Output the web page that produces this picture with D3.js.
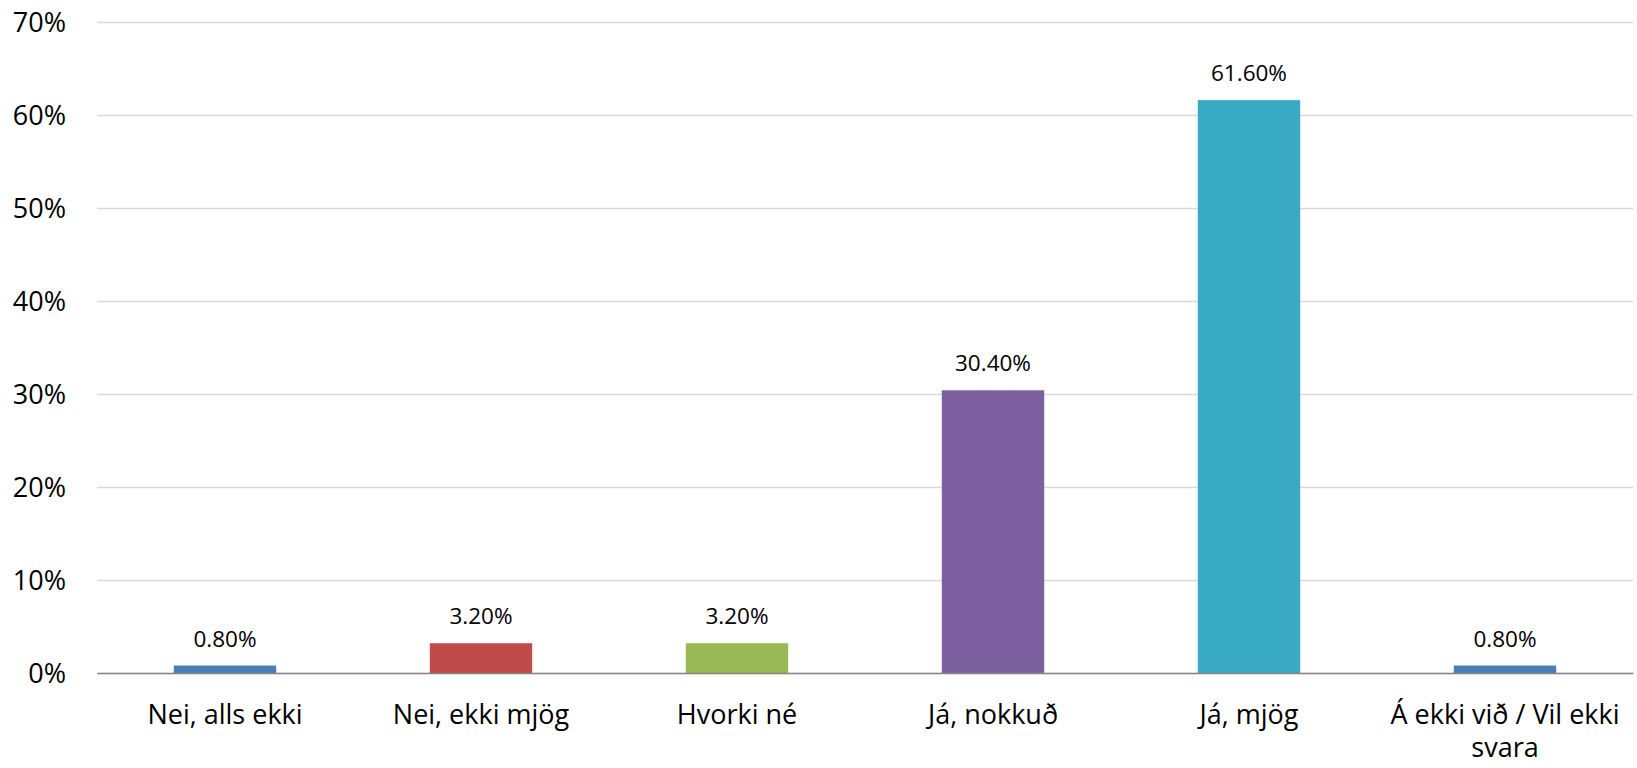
<!DOCTYPE html>
<html><head><meta charset="utf-8">
<script src="https://cdn.jsdelivr.net/npm/d3@7"></script>
<style>body{margin:0;background:#fff}svg{display:block}</style>
</head><body>
<svg id="c" width="1637" height="768"></svg>
<script>
const categories = ["Nei, alls ekki","Nei, ekki mjög","Hvorki né","Já, nokkuð","Já, mjög","Á ekki við / Vil ekki svara"];
const values = [0.8, 3.2, 3.2, 30.4, 61.6, 0.8];
const valueLabels = ["0.80%","3.20%","3.20%","30.40%","61.60%","0.80%"];
const colors = ["#4A7EBB","#BE4B48","#98B954","#7D60A0","#38AAC4","#4A7EBB"];
const yTicks = [0,10,20,30,40,50,60,70];

const svg = d3.select("#c");
const m = {left:97, right:1633, top:22, bottom:673};
const font = "'Open Sans', sans-serif";

const x = d3.scaleBand().domain(categories).range([m.left, m.right]).paddingInner(0.6).paddingOuter(0.3);
const y = d3.scaleLinear().domain([0,70]).range([m.bottom, m.top]);

// gridlines
const yAxis = d3.axisLeft(y).tickValues(yTicks).tickFormat(d => d + "%").tickSize(-(m.right-m.left)).tickPadding(31);
const gy = svg.append("g").attr("transform", `translate(${m.left},0)`).call(yAxis);
gy.select(".domain").remove();
gy.selectAll(".tick line").attr("stroke","#d9d9d9").attr("stroke-width",1.5);
gy.selectAll(".tick text").attr("font-family",font).attr("font-size",27).attr("fill","#000").attr("dy","0.35em");

// bars
svg.append("g").selectAll("rect").data(values).join("rect")
  .attr("x",(d,i)=>x(categories[i]))
  .attr("width",x.bandwidth())
  .attr("y",d=>y(d))
  .attr("height",d=>y(0)-y(d))
  .attr("fill",(d,i)=>colors[i]);

// axis line
const xAxis = d3.axisBottom(x).tickSize(0).tickFormat("");
const gx = svg.append("g").attr("transform",`translate(0,${y(0)})`).call(xAxis);
gx.select(".domain").attr("stroke","#868686").attr("stroke-width",1.5);

// data labels
svg.append("g").selectAll("text").data(values).join("text")
  .attr("x",(d,i)=>x(categories[i])+x.bandwidth()/2)
  .attr("y",d=>y(d)-19)
  .attr("text-anchor","middle")
  .attr("font-family",font).attr("font-size",22.5).attr("fill","#000")
  .text((d,i)=>valueLabels[i]);

// category labels with wrapping
const step = x.step();
const catG = svg.append("g");
categories.forEach((c,i)=>{
  const cx = x(c)+x.bandwidth()/2;
  const t = catG.append("text").attr("x",cx).attr("y",724).attr("text-anchor","middle")
    .attr("font-family",font).attr("font-size",27).attr("fill","#000");
  const words = c.split(" ");
  let line = [];
  let ts = t.append("tspan").attr("x",cx).attr("dy",0);
  words.forEach(w=>{
    line.push(w);
    ts.text(line.join(" "));
    if (ts.node().getComputedTextLength() > step - 6 && line.length>1){
      line.pop(); ts.text(line.join(" "));
      line=[w];
      ts = t.append("tspan").attr("x",cx).attr("dy",33).text(w);
    }
  });
});
</script>
</body></html>
